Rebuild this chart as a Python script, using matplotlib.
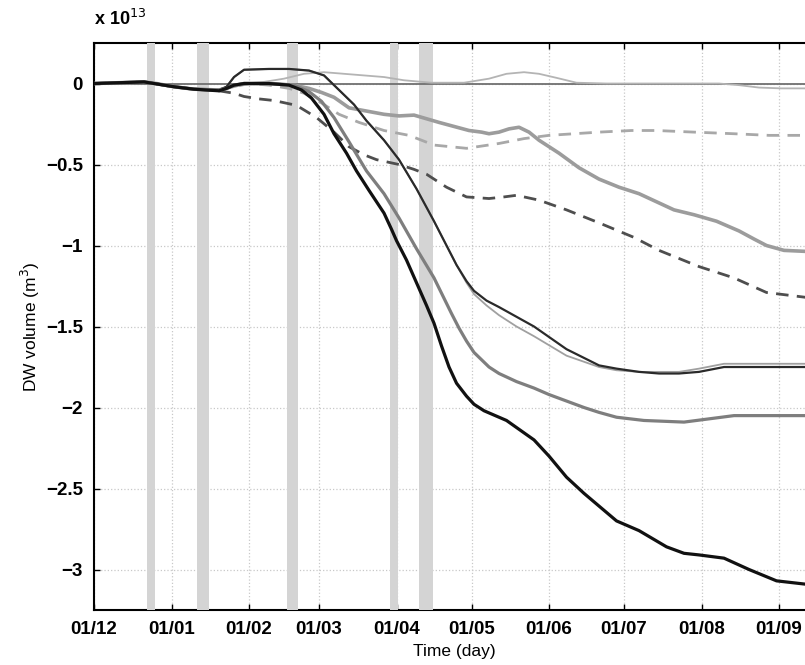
import numpy as np
import matplotlib
matplotlib.use("Agg")
import matplotlib.pyplot as plt

plt.rcParams['font.family'] = ['Liberation Sans', 'DejaVu Sans']

# time axis: days counted from 1 December
tick_dates = np.array(['2009-12-01', '2010-01-01', '2010-02-01', '2010-03-01', '2010-04-01',
                       '2010-05-01', '2010-06-01', '2010-07-01', '2010-08-01', '2010-09-01'],
                      dtype='datetime64[D]')
tick_labels = ['01/12', '01/01', '01/02', '01/03', '01/04', '01/05', '01/06', '01/07', '01/08', '01/09']
tick_days = (tick_dates - tick_dates[0]).astype(int)

# grey event bands (start day, end day)
bands = [(21.2, 24.4), (41.2, 46.0), (77.2, 81.6), (118.4, 121.4), (130.0, 135.5)]

# DW volume, units of 1e13 m^3
days_a = [0, 290]
vol_a = [0, 0]

days_b = [0, 10, 20, 25, 32, 40, 50, 55, 60, 68, 76, 84, 92, 100, 108, 116, 124, 135, 148, 158,
          165, 172, 178, 185, 193, 205, 230, 250, 258, 266, 275, 290]
vol_b = [0, 0.005, 0.01, 0, -0.02, -0.03, -0.035, -0.02, 0, 0.01, 0.03, 0.06, 0.07, 0.06, 0.05,
         0.04, 0.02, 0.005, 0.005, 0.03, 0.06, 0.07, 0.06, 0.035, 0.005, 0.0, 0.0, 0.0, -0.01,
         -0.025, -0.03, -0.03]

days_c = [0, 10, 20, 25, 32, 40, 50, 53, 56, 60, 70, 78, 86, 92, 98, 104, 109, 116, 122, 129, 136,
          142, 145, 149, 152, 157, 162, 169, 176, 189, 202, 209, 218, 226, 234, 242, 252, 262,
          275, 290]
vol_c = [0, 0.005, 0.01, 0, -0.02, -0.035, -0.04, -0.02, 0.04, 0.085, 0.09, 0.09, 0.08, 0.05,
         -0.04, -0.13, -0.23, -0.35, -0.47, -0.65, -0.85, -1.03, -1.12, -1.22, -1.28, -1.34,
         -1.38, -1.44, -1.5, -1.64, -1.74, -1.76, -1.78, -1.79, -1.79, -1.78, -1.75, -1.75,
         -1.75, -1.75]

days_d = [0, 10, 20, 25, 32, 40, 50, 53, 56, 60, 70, 78, 86, 92, 98, 104, 109, 116, 122, 129, 136,
          142, 145, 149, 152, 157, 162, 169, 176, 189, 202, 209, 218, 226, 234, 242, 252, 262,
          275, 290]
vol_d = [0, 0.005, 0.01, 0, -0.02, -0.035, -0.04, -0.02, 0.04, 0.085, 0.09, 0.09, 0.08, 0.05,
         -0.04, -0.13, -0.23, -0.35, -0.47, -0.65, -0.85, -1.03, -1.12, -1.23, -1.3, -1.37,
         -1.43, -1.5, -1.56, -1.68, -1.75, -1.77, -1.78, -1.78, -1.78, -1.76, -1.73, -1.73,
         -1.73, -1.73]

days_e = [0, 10, 20, 25, 32, 40, 50, 55, 60, 70, 80, 86, 91, 96, 102, 109, 116, 122, 128, 138,
          150, 155, 158, 162, 166, 170, 174, 178, 186, 194, 202, 210, 218, 225, 232, 240, 249,
          258, 264, 269, 276, 290]
vol_e = [0, 0.005, 0.01, 0, -0.02, -0.035, -0.04, -0.02, 0, 0, -0.01, -0.03, -0.055, -0.085,
         -0.15, -0.17, -0.19, -0.2, -0.195, -0.24, -0.29, -0.3, -0.31, -0.3, -0.28, -0.27, -0.3,
         -0.35, -0.43, -0.52, -0.59, -0.64, -0.68, -0.73, -0.78, -0.81, -0.85, -0.91, -0.96,
         -1.0, -1.03, -1.04]

days_f = [0, 20, 32, 40, 50, 56, 62, 70, 78, 84, 89, 94, 98, 106, 116, 126, 136, 149, 162, 172,
          182, 192, 202, 215, 225, 240, 256, 270, 290]
vol_f = [0, 0.01, -0.02, -0.035, -0.04, -0.02, 0, -0.01, -0.03, -0.06, -0.1, -0.15, -0.19,
         -0.24, -0.29, -0.32, -0.38, -0.4, -0.37, -0.34, -0.32, -0.31, -0.3, -0.29, -0.29, -0.3,
         -0.31, -0.32, -0.32]

days_g = [0, 20, 32, 40, 50, 56, 60, 66, 72, 81, 89, 96, 102, 108, 113, 122, 128, 133, 141, 149,
          158, 164, 169, 178, 189, 202, 216, 226, 242, 256, 269, 290]
vol_g = [0, 0.01, -0.02, -0.035, -0.045, -0.06, -0.08, -0.095, -0.105, -0.135, -0.21, -0.3,
         -0.39, -0.44, -0.47, -0.5, -0.53, -0.56, -0.64, -0.7, -0.71, -0.7, -0.69, -0.72, -0.78,
         -0.86, -0.95, -1.03, -1.13, -1.2, -1.29, -1.33]

days_h = [0, 20, 32, 40, 50, 53, 56, 60, 70, 80, 86, 91, 96, 102, 109, 116, 122, 129, 136, 143,
          146, 149, 152, 158, 162, 169, 176, 182, 189, 196, 202, 209, 220, 236, 246, 256, 270,
          290]
vol_h = [0, 0.01, -0.02, -0.035, -0.04, -0.03, -0.01, 0, 0, -0.01, -0.05, -0.11, -0.21, -0.36,
         -0.54, -0.68, -0.83, -1.02, -1.2, -1.42, -1.51, -1.59, -1.66, -1.75, -1.79, -1.84,
         -1.88, -1.92, -1.96, -2.0, -2.03, -2.06, -2.08, -2.09, -2.07, -2.05, -2.05, -2.05]

days_k = [0, 20, 32, 40, 50, 53, 56, 60, 70, 78, 83, 87, 92, 96, 101, 105, 110, 116, 119, 121,
          125, 129, 133, 136, 139, 142, 145, 149, 152, 156, 165, 176, 182, 189, 196, 209, 218,
          229, 236, 242, 252, 262, 273, 290]
vol_k = [0, 0.01, -0.02, -0.035, -0.045, -0.03, -0.01, 0, 0, -0.01, -0.04, -0.09, -0.19, -0.31,
         -0.43, -0.54, -0.66, -0.8, -0.9, -0.97, -1.09, -1.23, -1.37, -1.48, -1.62, -1.75,
         -1.85, -1.93, -1.98, -2.02, -2.08, -2.2, -2.3, -2.43, -2.53, -2.7, -2.76, -2.86, -2.9,
         -2.91, -2.93, -3.0, -3.07, -3.1]

fig = plt.figure(figsize=(8.05, 6.65), dpi=100)
ax = fig.add_axes([0.1168, 0.0827, 0.8944, 0.8526])

for a, b in bands:
    ax.axvspan(a, b, color='#d4d4d4', lw=0, zorder=2.6)

ax.plot(days_a, vol_a, color='#707070', lw=1.3, zorder=3)
ax.plot(days_b, vol_b, color='#b4b4b4', lw=1.3, zorder=3)
ax.plot(days_f, vol_f, color='#a8a8a8', lw=2.0, dashes=(4.5, 3), zorder=3)
ax.plot(days_g, vol_g, color='#4e4e4e', lw=2.0, dashes=(4.5, 3), zorder=3)
ax.plot(days_e, vol_e, color='#9c9c9c', lw=2.6, zorder=3)
ax.plot(days_d, vol_d, color='#a0a0a0', lw=1.3, zorder=3)
ax.plot(days_c, vol_c, color='#2a2a2a', lw=1.6, zorder=3)
ax.plot(days_h, vol_h, color='#7e7e7e', lw=2.3, zorder=3)
ax.plot(days_k, vol_k, color='#111111', lw=2.3, zorder=3)

ax.set_xlim(0, 288)
ax.set_ylim(-3.25, 0.25)
ax.set_xticks(tick_days)
ax.set_xticklabels(tick_labels)
ax.set_yticks([0, -0.5, -1, -1.5, -2, -2.5, -3])
ax.set_yticklabels(['0', '\u22120.5', '\u22121', '\u22121.5', '\u22122', '\u22122.5', '\u22123'])
ax.tick_params(direction='in', top=True, right=True, length=4, width=1, pad=8,
               labelsize=13.5)
for lab in ax.get_xticklabels() + ax.get_yticklabels():
    lab.set_fontweight('bold')
ax.grid(True, linestyle=':', color='#c8c8c8', lw=0.9)
for s in ax.spines.values():
    s.set_linewidth(1.5)

ax.set_xlabel('Time (day)', fontsize=12.5, labelpad=4)
ax.set_ylabel('DW volume (m$^3$)', fontsize=12.5, labelpad=3)
ax.text(0.0, 1.025, 'x 10$^{13}$', transform=ax.transAxes, fontsize=13, fontweight='bold',
        ha='left', va='bottom')

fig.savefig('out.png', dpi=100)
